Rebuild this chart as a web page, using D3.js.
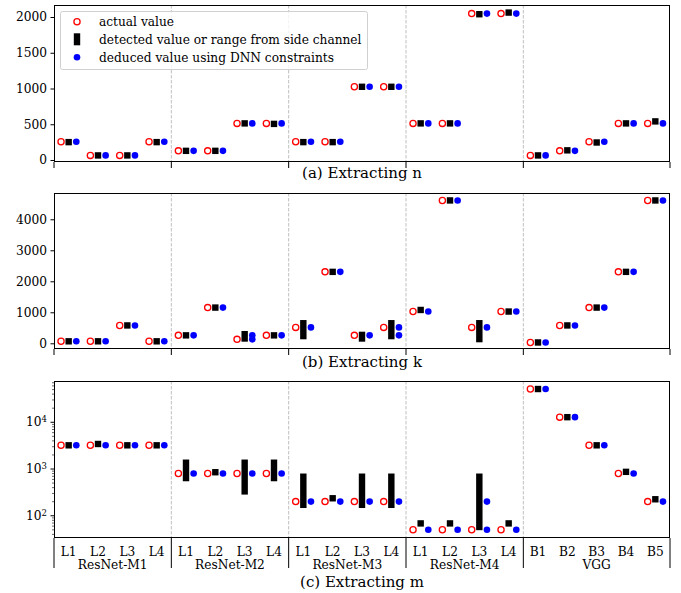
<!DOCTYPE html>
<html>
<head>
<meta charset="utf-8">
<script src="https://cdn.jsdelivr.net/npm/d3@7"></script>
<style>
body { margin: 0; background: #fff; }
text { font-family: "DejaVu Serif", serif; fill: #000; }
</style>
</head>
<body>
<script>
const groups = ["ResNet-M1", "ResNet-M2", "ResNet-M3", "ResNet-M4", "VGG"];
const groupSizes = [4, 4, 4, 4, 5];
const layers = ["L1", "L2", "L3", "L4", "L1", "L2", "L3", "L4", "L1", "L2", "L3", "L4",
    "L1", "L2", "L3", "L4", "B1", "B2", "B3", "B4", "B5"];

// (a) n  -- detected entries: number = single value, [lo, hi] = range
const nActual = [256, 64, 64, 256, 128, 128, 512, 512, 256, 256, 1024, 1024,
    512, 512, 2048, 2048, 64, 128, 256, 512, 512];
const nDetected = [250, 64, 64, 250, 128, 128, 512, 505, 250, 250, 1024, 1024,
    512, 512, 2039, 2062, 64, 135, 245, 512, 540];
const nDeduced = [256, 64, 64, 256, 128, 128, 512, 512, 256, 256, 1024, 1024,
    512, 512, 2048, 2048, 64, 128, 256, 512, 512];

// (b) k
const kActual = [64, 64, 576, 64, 256, 1152, 128, 256, 512, 2304, 256, 512,
    1024, 4608, 512, 1024, 27, 576, 1152, 2304, 4608];
const kDetected = [64, 64, 576, 64, 256, 1152, [52, 397], 256, [129, 750], 2304, [52, 374], [129, 750],
    1075, 4608, [32, 750], 1024, 27, 576, 1152, 2304, 4608];
const kDeduced = [64, 64, 576, 64, 256, 1152, [128, 256], 256, 512, 2304, 256, [256, 512],
    1024, 4608, 512, 1024, 27, 576, 1152, 2304, 4608];

// (c) m
const mActual = [3136, 3136, 3136, 3136, 784, 784, 784, 784, 196, 196, 196, 196,
    49, 49, 49, 49, 50176, 12544, 3136, 784, 196];
const mDetected = [3136, 3350, 3136, 3136, [534, 1557], 833, [277, 1557], [534, 1557],
    [143, 782], 231, [143, 782], [143, 782], 67, 67, [48, 782], 67, 50176, 12544, 3136, 849, 220];
const mDeduced = [3136, 3136, 3136, 3136, 784, 784, 784, 784, 196, 196, 196, 196,
    49, 49, [49, 196], 49, 50176, 12544, 3136, 784, 196];

const yTicksN = [0, 500, 1000, 1500, 2000];
const yTicksK = [0, 1000, 2000, 3000, 4000];
const yTicksM = [100, 1000, 10000];

const legendLabels = ["actual value", "detected value or range from side channel",
    "deduced value using DNN constraints"];

const W = 681, H = 593;
const left = 54, right = 670;
const off = 0.26;
const fs = "12.2px";

const svg = d3.select("body").append("svg")
    .attr("width", W)
    .attr("height", H);

const x = d3.scaleLinear().domain([-0.5, 20.5]).range([left, right]);

// group boundaries in category units
const bounds = [-0.5];
groupSizes.forEach(s => bounds.push(bounds[bounds.length - 1] + s));

const panels = [
    { top: 5, bottom: 162, y: d3.scaleLinear().domain([-28, 2168]), ticks: yTicksN,
      actual: nActual, detected: nDetected, deduced: nDeduced, title: "(a) Extracting n", titleY: 173 },
    { top: 193, bottom: 349, y: d3.scaleLinear().domain([-184, 4848]), ticks: yTicksK,
      actual: kActual, detected: kDetected, deduced: kDeduced, title: "(b) Extracting k", titleY: 362 },
    { top: 381, bottom: 538, y: d3.scaleLog().domain([Math.pow(10, 1.514), Math.pow(10, 4.872)]), ticks: yTicksM,
      actual: mActual, detected: mDetected, deduced: mDeduced, title: "(c) Extracting m", titleY: 582, log: true }
];

panels.forEach((p, pi) => {
    p.y.range([p.bottom, p.top]);
    const g = svg.append("g");

    // dashed separators
    g.selectAll(".sep")
        .data(bounds.slice(1, -1))
        .enter().append("line")
        .attr("x1", d => x(d)).attr("x2", d => x(d))
        .attr("y1", p.top).attr("y2", p.bottom)
        .style("stroke", "#b0b0b0")
        .style("stroke-width", 0.8)
        .style("stroke-dasharray", "3.5,1.5");

    // y axis
    const yAxis = d3.axisLeft(p.y).tickValues(p.ticks).tickSize(3.5).tickPadding(3.5);
    if (!p.log) yAxis.tickFormat(d3.format("d"));
    const ya = g.append("g")
        .attr("transform", `translate(${left},0)`)
        .call(yAxis);
    ya.select(".domain").remove();
    ya.selectAll("text").style("font-size", fs).style("font-family", "DejaVu Serif");

    if (p.log) {
        ya.selectAll(".tick text").each(function(d) {
            const t = d3.select(this);
            t.text("10");
            t.append("tspan")
                .attr("dy", "-0.45em")
                .style("font-size", "8.5px")
                .text(Math.round(Math.log10(d)));
        });
        const minor = [];
        for (let e = 1; e <= 4; e++) {
            for (let m = 2; m <= 9; m++) {
                const v = m * Math.pow(10, e);
                if (v >= p.y.domain()[0] && v <= p.y.domain()[1]) minor.push(v);
            }
        }
        const ym = g.append("g")
            .attr("transform", `translate(${left},0)`)
            .call(d3.axisLeft(p.y).tickValues(minor).tickSize(2).tickFormat(""));
        ym.select(".domain").remove();
        ym.selectAll("line").style("stroke-width", 0.6);
    }

    // frame
    g.append("rect")
        .attr("x", left + 0.5).attr("y", p.top + 0.5)
        .attr("width", right - left - 1).attr("height", p.bottom - p.top - 1)
        .style("fill", "none")
        .style("stroke", "#000")
        .style("stroke-width", 1);

    // x boundary ticks
    g.selectAll(".bt")
        .data(bounds)
        .enter().append("line")
        .attr("x1", d => x(d)).attr("x2", d => x(d))
        .attr("y1", p.bottom).attr("y2", p.log ? 568 : p.bottom + 6)
        .style("stroke", "#000")
        .style("stroke-width", 1);

    const idx = d3.range(layers.length);

    // actual values
    g.selectAll(".act")
        .data(idx)
        .enter().append("circle")
        .attr("cx", i => x(i - off))
        .attr("cy", i => p.y(p.actual[i]))
        .attr("r", 3.1)
        .style("fill", "#fff")
        .style("stroke", "red")
        .style("stroke-width", 1.3);

    // detected value or range
    g.selectAll(".det")
        .data(idx)
        .enter().append("rect")
        .each(function(i) {
            const d = p.detected[i];
            const lo = Array.isArray(d) ? d[0] : d;
            const hi = Array.isArray(d) ? d[1] : d;
            const y1 = p.y(hi), y2 = p.y(lo);
            const h = Math.max(6.4, y2 - y1);
            const c = (y1 + y2) / 2;
            d3.select(this)
                .attr("x", x(i) - 3.2)
                .attr("y", c - h / 2)
                .attr("width", 6.4)
                .attr("height", h);
        })
        .style("fill", "#000");

    // deduced values
    const ded = [];
    idx.forEach(i => {
        const d = p.deduced[i];
        (Array.isArray(d) ? d : [d]).forEach(v => ded.push({ i, v }));
    });
    g.selectAll(".ded")
        .data(ded)
        .enter().append("circle")
        .attr("cx", d => x(d.i + off))
        .attr("cy", d => p.y(d.v))
        .attr("r", 3.3)
        .style("fill", "blue");

    // panel title
    g.append("text")
        .attr("x", (left + right) / 2)
        .attr("y", p.titleY)
        .attr("dy", "0.35em")
        .attr("text-anchor", "middle")
        .style("font-size", "15px")
        .text(p.title);
});

// category and group labels under the last panel
svg.selectAll(".cat")
    .data(layers)
    .enter().append("text")
    .attr("x", (d, i) => x(i))
    .attr("y", 552)
    .attr("dy", "0.35em")
    .attr("text-anchor", "middle")
    .style("font-size", fs)
    .text(d => d);

svg.selectAll(".grp")
    .data(groups)
    .enter().append("text")
    .attr("x", (d, i) => x((bounds[i] + bounds[i + 1]) / 2))
    .attr("y", 565)
    .attr("dy", "0.35em")
    .attr("text-anchor", "middle")
    .style("font-size", fs)
    .text(d => d);

// legend
const legend = svg.append("g");
legend.append("rect")
    .attr("x", 60.5).attr("y", 11.5)
    .attr("width", 307).attr("height", 58)
    .attr("rx", 2)
    .style("fill", "#fff")
    .style("fill-opacity", 0.8)
    .style("stroke", "#d0d0d0")
    .style("stroke-width", 1);

const ly = [21.7, 39.3, 57.3];
legend.append("circle")
    .attr("cx", 77).attr("cy", ly[0]).attr("r", 3.1)
    .style("fill", "#fff").style("stroke", "red").style("stroke-width", 1.3);
legend.append("rect")
    .attr("x", 77 - 3.2).attr("y", ly[1] - 6)
    .attr("width", 6.4).attr("height", 12)
    .style("fill", "#000");
legend.append("circle")
    .attr("cx", 77).attr("cy", ly[2]).attr("r", 3.3)
    .style("fill", "blue");

legend.selectAll(".lt")
    .data(legendLabels)
    .enter().append("text")
    .attr("x", 99)
    .attr("y", (d, i) => ly[i])
    .attr("dy", "0.35em")
    .style("font-size", fs)
    .text(d => d);
</script>
</body>
</html>
